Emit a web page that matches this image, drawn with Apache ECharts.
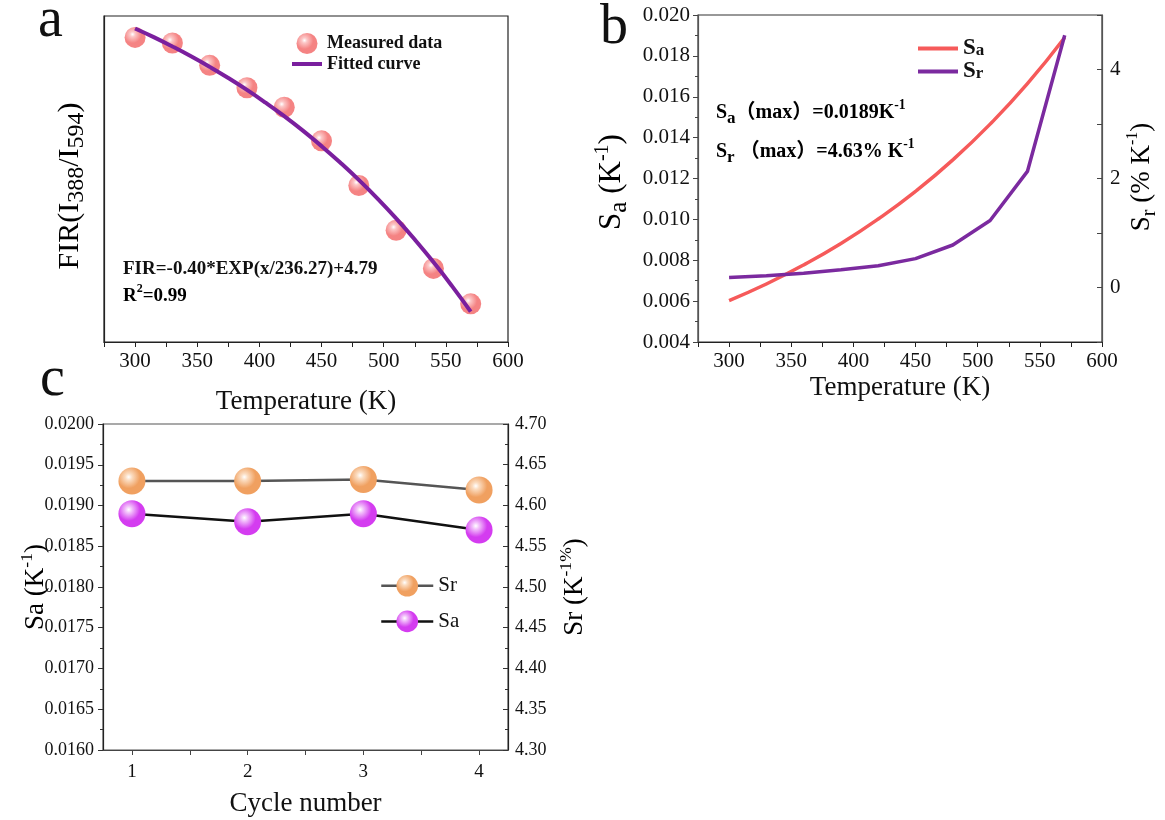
<!DOCTYPE html>
<html>
<head>
<meta charset="utf-8">
<script src="https://cdn.jsdelivr.net/npm/echarts@6/dist/echarts.min.js"></script>
<style>
  html, body { margin: 0; padding: 0; background: #fff; }
  #chart { width: 1165px; height: 820px; }
</style>
</head>
<body>
<div id="chart"></div>
<script>
// panel a: FIR vs temperature
var tempMeasured = [300, 330, 360, 390, 420, 450, 480, 510, 540, 570];
var firMeasured = [3.27, 3.21, 2.97, 2.73, 2.52, 2.16, 1.68, 1.20, 0.79, 0.41];
var tempFitted = [300, 315, 330, 345, 360, 375, 390, 405, 420, 435, 450, 465, 480, 495, 510, 525, 540, 555, 570];
var firFitted = [3.366, 3.273, 3.173, 3.067, 2.954, 2.834, 2.706, 2.569, 2.424, 2.269, 2.103, 1.927, 1.740, 1.540, 1.327, 1.100, 0.858, 0.600, 0.326];

// panel b: sensitivities
var tempSens = [300, 330, 360, 390, 420, 450, 480, 510, 540, 570];
var saValues = [0.00603, 0.00684, 0.00777, 0.00882, 0.01002, 0.01137, 0.01291, 0.01466, 0.01664, 0.01890];
var srValues = [0.185, 0.215, 0.263, 0.325, 0.40, 0.53, 0.78, 1.23, 2.13, 4.63];

// panel c: cycling
var cycles = [1, 2, 3, 4];
var cycleSr = [4.630, 4.630, 4.632, 4.619];
var cycleSa = [0.0189, 0.0188, 0.0189, 0.0187];
var cycleLabels = [1, 2, 3, 4];
var cycleTicks = [1, 1.5, 2, 2.5, 3, 3.5, 4];

var FONT = 'Liberation Serif, Noto Sans CJK SC, serif';

function pairs(xs, ys) {
    return xs.map(function (x, i) { return [x, ys[i]]; });
}

function sphere(base, light) {
    return {
        type: 'radial', x: 0.38, y: 0.35, r: 0.7,
        colorStops: [
            { offset: 0, color: '#ffffff' },
            { offset: 0.18, color: light },
            { offset: 0.6, color: base },
            { offset: 1, color: base }
        ]
    };
}

// rich styles for sub / superscripts
function richSet(size, weight, subSize) {
    return {
        n: { fontSize: size, fontWeight: weight, fontFamily: FONT, color: '#111', lineHeight: size + 8 },
        s: { fontSize: subSize, fontWeight: weight, fontFamily: FONT, color: '#111', lineHeight: subSize, verticalAlign: 'bottom' },
        p: { fontSize: subSize * 0.8, fontWeight: weight, fontFamily: FONT, color: '#111', lineHeight: subSize * 0.8, verticalAlign: 'top' }
    };
}

var tempAxis = function (gridIndex) {
    return {
        type: 'value', gridIndex: gridIndex, min: 275, max: 600, interval: 25,
        axisLine: { onZero: false, lineStyle: { color: '#222', width: 1.2 } },
        axisTick: { show: true, length: 5, lineStyle: { color: '#222' } },
        splitLine: { show: false },
        axisLabel: {
            margin: 9, fontSize: 21, fontFamily: FONT, color: '#111',
            formatter: function (v) { return v % 50 === 0 ? v : ''; }
        },
        name: 'Temperature (K)', nameLocation: 'middle',
        nameTextStyle: { fontSize: 27, fontFamily: FONT, color: '#111' }
    };
};

var xa = tempAxis(0); xa.nameGap = 46;
var xb = tempAxis(1); xb.nameGap = 32;

var dom = document.getElementById('chart');
var myChart = echarts.init(dom);
var option = {
    animation: false,
    backgroundColor: '#fff',
    grid: [
        { left: 104, top: 16, width: 404, height: 326, show: true, borderColor: '#222', borderWidth: 1.2, outerBoundsMode: 'none' },
        { left: 698, top: 15, width: 404, height: 327, show: true, borderColor: '#333', borderWidth: 1.2, outerBoundsMode: 'none' },
        { left: 103, top: 424, width: 405, height: 326, show: true, borderColor: '#555', borderWidth: 1.2, outerBoundsMode: 'none' }
    ],
    xAxis: [
        xa,
        xb,
        {
            type: 'value', gridIndex: 2, min: 0.75, max: 4.25,
            axisLine: { onZero: false, lineStyle: { color: '#444', width: 1.2 } },
            axisTick: { show: true, length: 5, customValues: cycleTicks, lineStyle: { color: '#444' } },
            splitLine: { show: false },
            axisLabel: { margin: 13, fontSize: 19, fontFamily: FONT, color: '#111', customValues: cycleLabels },
            name: 'Cycle number', nameLocation: 'middle', nameGap: 40,
            nameTextStyle: { fontSize: 27, fontFamily: FONT, color: '#111' }
        }
    ],
    yAxis: [
        {
            type: 'value', gridIndex: 0, min: 0, max: 3.5,
            axisLine: { show: true, lineStyle: { color: '#222', width: 1.2 } },
            axisTick: { show: false }, axisLabel: { show: false }, splitLine: { show: false }
        },
        {
            type: 'value', gridIndex: 1, min: 0.004, max: 0.020, interval: 0.002,
            axisLine: { show: true, lineStyle: { color: '#555', width: 1.2 } },
            axisTick: { length: 5, lineStyle: { color: '#444' } },
            minorTick: { show: true, splitNumber: 2, length: 3, lineStyle: { color: '#444' } },
            splitLine: { show: false },
            axisLabel: { margin: 8, fontSize: 21, fontFamily: FONT, color: '#111', formatter: function (v) { return v.toFixed(3); } }
        },
        {
            type: 'value', gridIndex: 1, position: 'right', min: -1, max: 5, interval: 1,
            axisLine: { show: true, onZero: false, lineStyle: { color: '#555', width: 1.2 } },
            axisTick: { inside: true, length: 5, lineStyle: { color: '#444' } },
            splitLine: { show: false },
            axisLabel: { margin: 8, fontSize: 21, fontFamily: FONT, color: '#111',
                formatter: function (v) { return (v >= 0 && v <= 4 && v % 2 === 0) ? v : ''; } }
        },
        {
            type: 'value', gridIndex: 2, min: 0.016, max: 0.020, interval: 0.0005,
            axisLine: { show: true, lineStyle: { color: '#222', width: 1.2 } },
            axisTick: { length: 5, lineStyle: { color: '#333' } },
            minorTick: { show: true, splitNumber: 2, length: 3, lineStyle: { color: '#333' } },
            splitLine: { show: false },
            axisLabel: { margin: 9, fontSize: 18, fontFamily: FONT, color: '#111', formatter: function (v) { return v.toFixed(4); } }
        },
        {
            type: 'value', gridIndex: 2, position: 'right', min: 4.30, max: 4.70, interval: 0.05,
            axisLine: { show: true, lineStyle: { color: '#222', width: 1.2 } },
            axisTick: { inside: true, length: 5, lineStyle: { color: '#333' } },
            minorTick: { show: true, splitNumber: 2, length: 3, lineStyle: { color: '#333' } },
            splitLine: { show: false },
            axisLabel: { margin: 7, fontSize: 18, fontFamily: FONT, color: '#111', formatter: function (v) { return v.toFixed(2); } }
        }
    ],
    legend: [
        {
            data: ['Measured data', { name: 'Fitted curve', itemStyle: { opacity: 0 }, lineStyle: { width: 4 } }],
            orient: 'vertical', left: 285, top: 28,
            itemWidth: 30, itemHeight: 21, itemGap: 1,
            textStyle: { fontSize: 18, fontWeight: 'bold', fontFamily: FONT, color: '#111' }
        },
        {
            data: [
                { name: 'Sa_b', itemStyle: { opacity: 0 }, lineStyle: { width: 4 } },
                { name: 'Sr_b', itemStyle: { opacity: 0 }, lineStyle: { width: 4 } }
            ],
            orient: 'vertical', left: 911, top: 32,
            itemWidth: 40, itemHeight: 14, itemGap: 0,
            formatter: function (name) { return name === 'Sa_b' ? '{n|S}{s|a}' : '{n|S}{s|r}'; },
            textStyle: { rich: {
                n: { fontSize: 23, fontWeight: 'bold', fontFamily: FONT, color: '#111', lineHeight: 22 },
                s: { fontSize: 17, fontWeight: 'bold', fontFamily: FONT, color: '#111', lineHeight: 14, verticalAlign: 'bottom' }
            } }
        },
        {
            data: [{ name: 'Sr', lineStyle: { width: 2.5 } }, { name: 'Sa', lineStyle: { width: 2.5 } }],
            orient: 'vertical', left: 375, top: 570,
            itemWidth: 52, itemHeight: 27, itemGap: 14,
            textStyle: { fontSize: 21, fontFamily: FONT, color: '#111' }
        }
    ],
    series: [
        {
            name: 'Measured data', type: 'scatter', xAxisIndex: 0, yAxisIndex: 0,
            data: pairs(tempMeasured, firMeasured), symbolSize: 21, z: 2,
            itemStyle: { color: sphere('#f26464', '#fbb8b8') }
        },
        {
            name: 'Fitted curve', type: 'line', xAxisIndex: 0, yAxisIndex: 0,
            data: pairs(tempFitted, firFitted), symbol: 'none', smooth: true, z: 3,
            lineStyle: { color: '#7a1f9e', width: 4 }, itemStyle: { color: '#7a1f9e' }
        },
        {
            name: 'Sa_b', type: 'line', xAxisIndex: 1, yAxisIndex: 1,
            data: pairs(tempSens, saValues), symbol: 'none', smooth: true,
            lineStyle: { color: '#f65a5a', width: 3.5 }, itemStyle: { color: '#f65a5a' }
        },
        {
            name: 'Sr_b', type: 'line', xAxisIndex: 1, yAxisIndex: 2,
            data: pairs(tempSens, srValues), symbol: 'none',
            lineStyle: { color: '#7b2a9f', width: 3.5 }, itemStyle: { color: '#7b2a9f' }
        },
        {
            name: 'Sr', type: 'line', xAxisIndex: 2, yAxisIndex: 4,
            data: pairs(cycles, cycleSr), symbol: 'circle', symbolSize: 27,
            lineStyle: { color: '#555', width: 2.5 },
            itemStyle: { color: sphere('#f0a060', '#fbdcc0') }
        },
        {
            name: 'Sa', type: 'line', xAxisIndex: 2, yAxisIndex: 3,
            data: pairs(cycles, cycleSa), symbol: 'circle', symbolSize: 27,
            lineStyle: { color: '#111', width: 2.5 },
            itemStyle: { color: sphere('#d43cf0', '#f2c0fb') }
        }
    ],
    graphic: [
        { type: 'text', x: 38, y: 21, style: { text: 'a', fontSize: 56, fontFamily: FONT, fill: '#111', verticalAlign: 'middle' } },
        { type: 'text', x: 600, y: 28, style: { text: 'b', fontSize: 56, fontFamily: FONT, fill: '#111', verticalAlign: 'middle' } },
        { type: 'text', x: 40, y: 380, style: { text: 'c', fontSize: 56, fontFamily: FONT, fill: '#111', verticalAlign: 'middle' } },
        // y titles
        { type: 'text', x: 70, y: 186, rotation: Math.PI / 2, style: {
            text: '{n|FIR(I}{s|388}{n|/I}{s|594}{n|)}', rich: richSet(30, 'normal', 24), align: 'center', verticalAlign: 'middle' } },
        { type: 'text', x: 612, y: 182, rotation: Math.PI / 2, style: {
            text: '{n|S}{s|a}{n| (K}{p|-1}{n|)}', rich: richSet(31, 'normal', 25), align: 'center', verticalAlign: 'middle' } },
        { type: 'text', x: 1142, y: 177, rotation: Math.PI / 2, style: {
            text: '{n|S}{s|r}{n| (% K}{p|-1}{n|)}', rich: richSet(27, 'normal', 20), align: 'center', verticalAlign: 'middle' } },
        { type: 'text', x: 36, y: 587, rotation: Math.PI / 2, style: {
            text: '{n|Sa (K}{p|-1}{n|)}', rich: richSet(27, 'normal', 22), align: 'center', verticalAlign: 'middle' } },
        { type: 'text', x: 575, y: 587, rotation: Math.PI / 2, style: {
            text: '{n|Sr (K}{p|-1%}{n|)}', rich: richSet(27, 'normal', 22), align: 'center', verticalAlign: 'middle' } },
        // annotations
        { type: 'text', x: 123, y: 269, style: { text: 'FIR=-0.40*EXP(x/236.27)+4.79', fontSize: 19, fontWeight: 'bold', fontFamily: FONT, fill: '#111', verticalAlign: 'middle' } },
        { type: 'text', x: 123, y: 296, style: { text: '{n|R}{p|2}{n|=0.99}', rich: richSet(19, 'bold', 15), verticalAlign: 'middle' } },
        { type: 'text', x: 716, y: 113, style: { text: '{n|S}{s|a}{n|（max）=0.0189K}{p|-1}', rich: richSet(20, 'bold', 17), verticalAlign: 'middle' } },
        { type: 'text', x: 716, y: 152, style: { text: '{n|S}{s|r}{n| （max）=4.63% K}{p|-1}', rich: richSet(20, 'bold', 17), verticalAlign: 'middle' } }
    ]
};

if (option && typeof option === "object") {
    myChart.setOption(option, true);
}
</script>
</body>
</html>
